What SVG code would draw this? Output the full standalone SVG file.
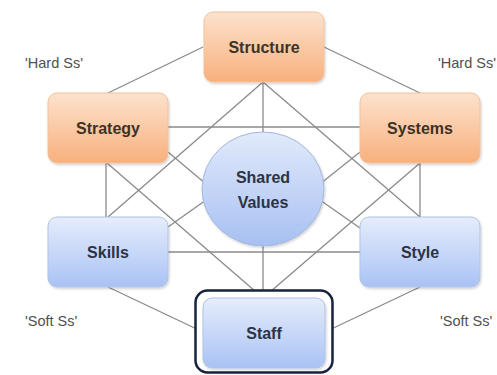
<svg xmlns="http://www.w3.org/2000/svg" width="497" height="375" viewBox="0 0 497 375">
  <defs>
    <linearGradient id="gOrange" x1="0" y1="0" x2="0" y2="1">
      <stop offset="0" stop-color="#fde2cd"/>
      <stop offset="1" stop-color="#f8b07c"/>
    </linearGradient>
    <linearGradient id="gBlue" x1="0" y1="0" x2="0" y2="1">
      <stop offset="0" stop-color="#e6edfc"/>
      <stop offset="1" stop-color="#a9c2f4"/>
    </linearGradient>
    <linearGradient id="gCircle" x1="0" y1="0" x2="0" y2="1">
      <stop offset="0" stop-color="#e2eafb"/>
      <stop offset="1" stop-color="#a7c0f2"/>
    </linearGradient>
    <filter id="shadow" x="-10%" y="-10%" width="130%" height="130%">
      <feDropShadow dx="1" dy="1.5" stdDeviation="1.2" flood-color="#000" flood-opacity="0.18"/>
    </filter>
  </defs>
  <style>
    .conn line { stroke: #8a8a8a; stroke-width: 1.3; fill: none; }
    .hard rect { fill: url(#gOrange); stroke: #f0c29e; stroke-width: 1; filter: url(#shadow); }
    .soft rect.box { fill: url(#gBlue); stroke: #b0c3e5; stroke-width: 1; filter: url(#shadow); }
    .soft rect.frame { fill: #ffffff; stroke: #16223e; stroke-width: 2.5; }
    .lbl { font-family: "Liberation Sans", Arial, sans-serif; font-size: 16px; font-weight: bold; text-anchor: middle; }
    .hard .lbl { fill: #3d3226; }
    .soft .lbl { fill: #2c3346; }
    .note { font-family: "Liberation Sans", Arial, sans-serif; font-size: 14.5px; fill: #505050; }
  </style>
  <rect x="0" y="0" width="497" height="375" fill="#ffffff"/>

  <g id="connectors" class="conn">
    <line x1="203" y1="47" x2="108" y2="93"/>
    <line x1="324" y1="47" x2="420" y2="93"/>
    <line x1="168" y1="127" x2="360" y2="127"/>
    <line x1="263" y1="82" x2="263" y2="140"/>
    <line x1="106" y1="163" x2="106" y2="217"/>
    <line x1="420" y1="163" x2="420" y2="217"/>
    <line x1="168" y1="252" x2="360" y2="252"/>
    <line x1="108" y1="287" x2="203" y2="332"/>
    <line x1="420" y1="287" x2="325" y2="332"/>
    <line x1="263" y1="240" x2="263" y2="298"/>
    <line x1="263" y1="82" x2="108" y2="217"/>
    <line x1="263" y1="82" x2="420" y2="217"/>
    <line x1="107" y1="163" x2="263" y2="298"/>
    <line x1="420" y1="163" x2="263" y2="298"/>
    <line x1="168" y1="152" x2="206" y2="184"/>
    <line x1="360" y1="152" x2="320" y2="184"/>
    <line x1="168" y1="227" x2="206" y2="200"/>
    <line x1="360" y1="228" x2="320" y2="200"/>
  </g>

  <g id="structure" class="hard">
    <rect x="204" y="12" width="120" height="70" rx="9"/>
    <text class="lbl" x="264" y="52.5">Structure</text>
  </g>
  <g id="strategy" class="hard">
    <rect x="48" y="93" width="120" height="70" rx="9"/>
    <text class="lbl" x="108" y="133.5">Strategy</text>
  </g>
  <g id="systems" class="hard">
    <rect x="360" y="93" width="120" height="70" rx="9"/>
    <text class="lbl" x="420" y="133.5">Systems</text>
  </g>
  <g id="shared-values" class="soft">
    <ellipse cx="263" cy="189" rx="61" ry="57" fill="url(#gCircle)" stroke="#a3b8dd" stroke-width="1" filter="url(#shadow)"/>
    <text class="lbl" x="263" y="183">Shared</text>
    <text class="lbl" x="263" y="208">Values</text>
  </g>
  <g id="skills" class="soft">
    <rect class="box" x="48" y="217" width="120" height="70" rx="9"/>
    <text class="lbl" x="108" y="257.5">Skills</text>
  </g>
  <g id="style" class="soft">
    <rect class="box" x="360" y="217" width="120" height="70" rx="9"/>
    <text class="lbl" x="420" y="257.5">Style</text>
  </g>
  <g id="staff" class="soft">
    <rect class="frame" x="195.5" y="290.5" width="137" height="82" rx="12"/>
    <rect class="box" x="203" y="298" width="122" height="70" rx="9"/>
    <text class="lbl" x="264" y="338.5">Staff</text>
  </g>

  <g id="notes">
    <text class="note" x="25" y="68">'Hard Ss'</text>
    <text class="note" x="438" y="68">'Hard Ss'</text>
    <text class="note" x="25" y="326">'Soft Ss'</text>
    <text class="note" x="440" y="326">'Soft Ss'</text>
  </g>
</svg>
